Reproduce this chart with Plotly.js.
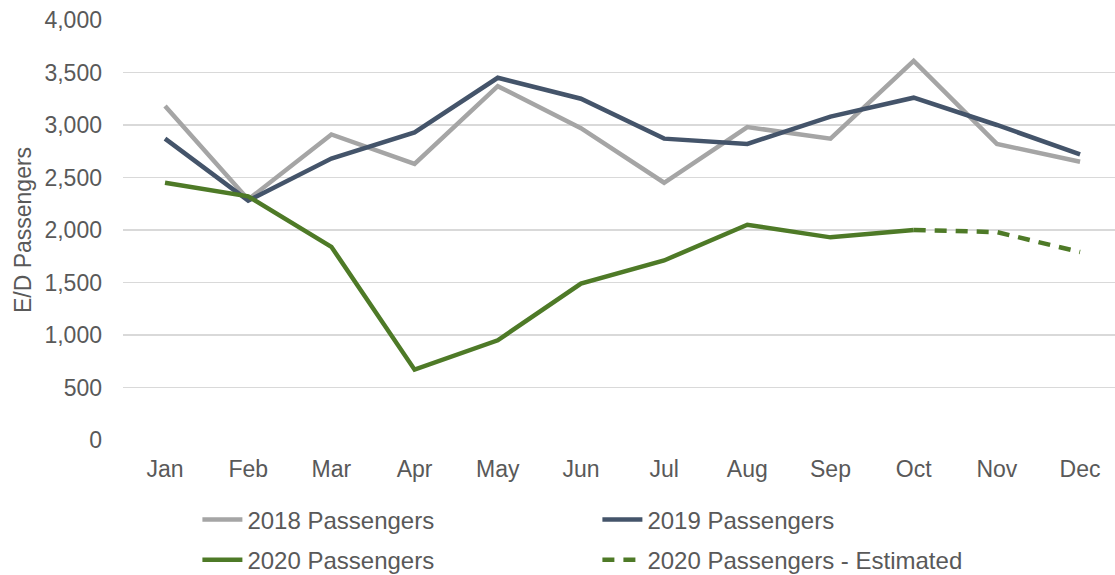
<!DOCTYPE html>
<html>
<head>
<meta charset="utf-8">
<script src="https://cdn.plot.ly/plotly-3.0.1.min.js"></script>
<style>html,body{margin:0;padding:0;background:#fff}#chart{width:1115px;height:575px}</style>
</head>
<body>
<div id="chart"></div>
<script>
const months = ["Jan","Feb","Mar","Apr","May","Jun","Jul","Aug","Sep","Oct","Nov","Dec"];
const pax2018 = [3180, 2290, 2910, 2630, 3370, 2970, 2450, 2980, 2870, 3610, 2820, 2650];
const pax2019 = [2870, 2280, 2680, 2930, 3450, 3250, 2870, 2820, 3080, 3260, 3000, 2720];
const pax2020 = [2450, 2320, 1840, 670, 950, 1490, 1710, 2050, 1930, 2000, null, null];
const pax2020Est = [null, null, null, null, null, null, null, null, null, 2000, 1980, 1790];
const yTicks = [0, 500, 1000, 1500, 2000, 2500, 3000, 3500, 4000];

const traces = [
  {x: months, y: pax2018, name: "2018 Passengers", mode: "lines", legend: "legend", line: {color: "#A5A5A5", width: 4.5}},
  {x: months, y: pax2019, name: "2019 Passengers", mode: "lines", legend: "legend", line: {color: "#44546A", width: 4.5}},
  {x: months, y: pax2020, name: "2020 Passengers", mode: "lines", legend: "legend2", line: {color: "#4E7A27", width: 4.5}},
  {x: months, y: pax2020Est, name: "2020 Passengers - Estimated", mode: "lines", legend: "legend2", line: {color: "#4E7A27", width: 4.5, dash: "12px,9px"}}
];

const legendBase = {orientation: "h", xanchor: "left", yanchor: "middle",
  entrywidth: 345, entrywidthmode: "pixels", font: {size: 24, color: "#595959"},
  bgcolor: "rgba(0,0,0,0)", itemwidth: 40, traceorder: "normal"};

const layout = {
  width: 1115, height: 575,
  margin: {l: 123, r: 0, t: 20, b: 135, autoexpand: false},
  paper_bgcolor: "#fff", plot_bgcolor: "#fff",
  font: {family: "Liberation Sans, Arial, sans-serif", color: "#595959", size: 23},
  showlegend: true,
  legend: Object.assign({}, legendBase, {x: 0.075, y: -0.19}),
  legend2: Object.assign({}, legendBase, {x: 0.075, y: -0.286}),
  xaxis: {type: "category", range: [-0.505, 11.42], showgrid: false, zeroline: false,
          showline: false, ticks: "", ticklabelstandoff: 13, tickfont: {size: 23, color: "#595959"}},
  yaxis: {range: [0, 4000], tickvals: yTicks, tickformat: ",d", showgrid: true, gridcolor: "#D9D9D9",
          gridwidth: 1.5, zeroline: false, showline: false, ticks: "", ticklabelstandoff: 20,
          tickfont: {size: 23, color: "#595959"},
          title: {text: "E/D Passengers", font: {size: 23, color: "#595959"}, standoff: 6}}
};

Plotly.newPlot("chart", traces, layout, {displayModeBar: false, staticPlot: true});
</script>
</body>
</html>
